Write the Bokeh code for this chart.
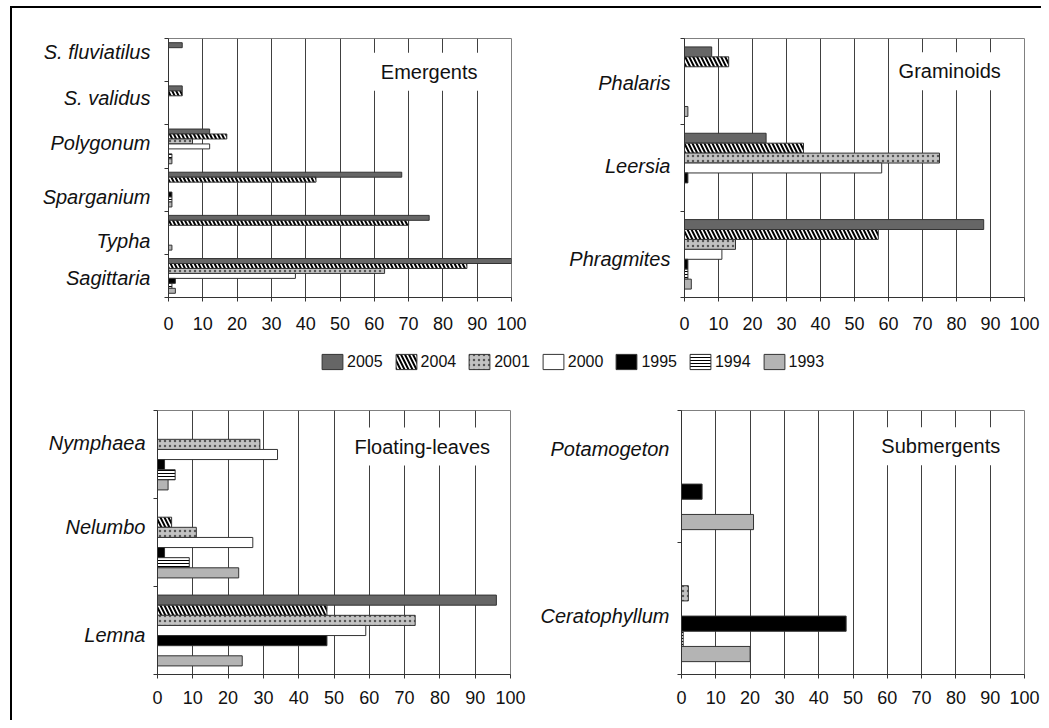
from bokeh.plotting import figure
from bokeh.models import Range1d, FixedTicker, Label, Legend, LegendItem
from bokeh.layouts import column, row
from bokeh.embed import file_html
from bokeh.resources import INLINE

# ---------------- data ----------------
YEARS = ["2005", "2004", "2001", "2000", "1995", "1994", "1993"]

# Emergents (categories listed top to bottom)
em_cats = ["S. fluviatilus", "S. validus", "Polygonum", "Sparganium", "Typha", "Sagittaria"]
em_2005 = [4, 4, 12, 68, 76, 100]
em_2004 = [0, 4, 17, 43, 70, 87]
em_2001 = [0, 0, 7, 0, 0, 63]
em_2000 = [0, 0, 12, 0, 0, 37]
em_1995 = [0, 0, 0, 1, 0, 2]
em_1994 = [0, 0, 1, 1, 0, 1]
em_1993 = [0, 0, 1, 1, 1, 2]

# Graminoids
gr_cats = ["Phalaris", "Leersia", "Phragmites"]
gr_2005 = [8, 24, 88]
gr_2004 = [13, 35, 57]
gr_2001 = [0, 75, 15]
gr_2000 = [0, 58, 11]
gr_1995 = [0, 1, 1]
gr_1994 = [0, 0, 1]
gr_1993 = [1, 0, 2]

# Floating-leaves
fl_cats = ["Nymphaea", "Nelumbo", "Lemna"]
fl_2005 = [0, 0, 96]
fl_2004 = [0, 4, 48]
fl_2001 = [29, 11, 73]
fl_2000 = [34, 27, 59]
fl_1995 = [2, 2, 48]
fl_1994 = [5, 9, 0]
fl_1993 = [3, 23, 24]

# Submergents
sb_cats = ["Potamogeton", "Ceratophyllum"]
sb_2005 = [0, 0]
sb_2004 = [0, 0]
sb_2001 = [0, 2]
sb_2000 = [0, 0]
sb_1995 = [6, 48]
sb_1994 = [0, 0.5]
sb_1993 = [21, 20]

X_TICKS = list(range(0, 101, 10))

# ---------------- styles ----------------
FONT = "Liberation Sans"
BAR_H = 0.115
STYLES = {
    "2005": dict(fill_color="#666666"),
    "2004": dict(fill_color="white", hatch_pattern="left_diagonal_line",
                 hatch_color="black", hatch_weight=2, hatch_scale=8),
    "2001": dict(fill_color="#c2c2c2", hatch_pattern="dot",
                 hatch_color="#555555", hatch_scale=5, hatch_weight=1),
    "2000": dict(fill_color="white"),
    "1995": dict(fill_color="black"),
    "1994": dict(fill_color="white", hatch_pattern="horizontal_line",
                 hatch_color="black", hatch_scale=3, hatch_weight=1),
    "1993": dict(fill_color="#b4b4b4"),
}


def panel(cats, series, title, label_pos, title_xy, width, height,
          bl, br, bt, bb, ystandoff, xstandoff):
    n = len(cats)
    p = figure(width=width, height=height, x_range=Range1d(0, 100),
               y_range=Range1d(0, n), output_backend="svg",
               toolbar_location=None, title=None,
               min_border_left=bl, min_border_right=br,
               min_border_top=bt, min_border_bottom=bb)
    p.background_fill_color = "white"
    p.border_fill_color = "white"
    p.outline_line_color = "#808080"
    p.outline_line_width = 1

    for j, yr in enumerate(YEARS):
        vals = series[j]
        ys, rs = [], []
        for i, v in enumerate(vals):
            if v > 0:
                c = n - 1 - i
                ys.append(c + 0.5 + (3 - j) * BAR_H)
                rs.append(v)
        p.hbar(y=ys, left=0, right=rs, height=BAR_H,
               line_color="#333333", line_width=1, **STYLES[yr])

    # x axis
    p.xaxis.ticker = FixedTicker(ticks=X_TICKS)
    p.xgrid.ticker = FixedTicker(ticks=X_TICKS)
    p.xgrid.grid_line_color = "#404040"
    p.xgrid.grid_line_width = 1
    p.ygrid.visible = False
    p.xaxis.axis_line_color = "#333333"
    p.xaxis.major_tick_line_color = "#333333"
    p.xaxis.major_tick_out = 4
    p.xaxis.major_tick_in = 0
    p.xaxis.minor_tick_line_color = None
    p.xaxis.major_label_text_font = FONT
    p.xaxis.major_label_text_font_size = "18px"
    p.xaxis.major_label_text_color = "#111111"
    p.xaxis.major_label_standoff = xstandoff

    # y axis: labels at given positions, ticks at category boundaries
    p.yaxis.ticker = FixedTicker(ticks=label_pos, minor_ticks=list(range(n + 1)))
    p.yaxis.major_label_overrides = {
        float(pos): name for pos, name in zip(label_pos, reversed(cats))
    }
    p.yaxis.axis_line_color = "#333333"
    p.yaxis.major_tick_out = 0
    p.yaxis.major_tick_in = 0
    p.yaxis.minor_tick_out = 4
    p.yaxis.minor_tick_in = 0
    p.yaxis.minor_tick_line_color = "#333333"
    p.yaxis.major_label_text_font = FONT
    p.yaxis.major_label_text_font_size = "20px"
    p.yaxis.major_label_text_font_style = "italic"
    p.yaxis.major_label_text_color = "#111111"
    p.yaxis.major_label_standoff = ystandoff

    p.add_layout(Label(x=title_xy[0], y=title_xy[1], text=title,
                       text_align="center", text_baseline="middle",
                       text_font=FONT, text_font_size="20px",
                       text_color="#111111",
                       background_fill_color="white", padding=8))
    return p


# label positions (bottom to top), in category units
p1 = panel(em_cats, [em_2005, em_2004, em_2001, em_2000, em_1995, em_1994, em_1993],
           "Emergents", [0.46, 1.32, 2.32, 3.59, 4.63, 5.68], (76, 5.23),
           518, 334, 156, 19, 30, 45, 14, 15)
p2 = panel(gr_cats, [gr_2005, gr_2004, gr_2001, gr_2000, gr_1995, gr_1994, gr_1993],
           "Graminoids", [0.45, 1.52, 2.48], (78, 2.62),
           511, 334, 154, 17, 30, 45, 10, 15)
p3 = panel(fl_cats, [fl_2005, fl_2004, fl_2001, fl_2000, fl_1995, fl_1994, fl_1993],
           "Floating-leaves", [0.45, 1.68, 2.63], (75, 2.59),
           518, 342, 145, 20, 32, 46, 8, 12)
p4 = panel(sb_cats, [sb_2005, sb_2004, sb_2001, sb_2000, sb_1995, sb_1994, sb_1993],
           "Submergents", [0.44, 1.71], (75.6, 1.73),
           511, 342, 151, 17, 32, 46, 8, 12)

# ---------------- shared legend ----------------
lf = figure(width=1029, height=36, x_range=Range1d(0, 1), y_range=Range1d(0, 1),
            toolbar_location=None, output_backend="svg", title=None, min_border=0)
lf.axis.visible = False
lf.grid.visible = False
lf.outline_line_color = None
items = []
for yr in YEARS:
    # legend-only renderer: its single bar lies outside the visible range
    r = lf.hbar(y=[-5], left=0, right=[1], height=0.5,
                line_color="#333333", line_width=1, **STYLES[yr])
    items.append(LegendItem(label=yr, renderers=[r]))
legend = Legend(items=items, orientation="horizontal", location=(307, 7),
                glyph_width=26, glyph_height=19, label_standoff=2, spacing=10,
                label_text_font=FONT, label_text_font_size="16px",
                label_text_color="#111111",
                padding=0, margin=0, border_line_color=None,
                background_fill_alpha=0)
lf.add_layout(legend)

layout = column(row(p1, p2), lf, row(p3, p4),
                styles={"margin-left": "10px", "margin-top": "6px",
                        "border-left": "2px solid black",
                        "border-top": "2px solid black"})

open("out.html", "w").write(file_html(layout, INLINE))
